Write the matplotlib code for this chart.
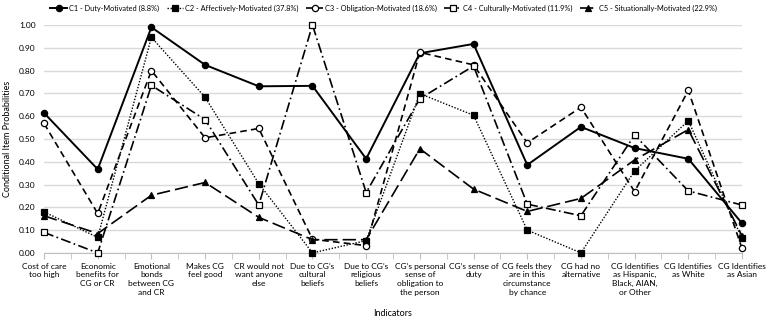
import numpy as np
import matplotlib.pyplot as plt

plt.rcParams['font.family'] = ['Lato', 'DejaVu Sans']

categories = [
    "Cost of care\ntoo high",
    "Economic\nbenefits for\nCG or CR",
    "Emotional\nbonds\nbetween CG\nand CR",
    "Makes CG\nfeel good",
    "CR would not\nwant anyone\nelse",
    "Due to CG\u2019s\ncultural\nbeliefs",
    "Due to CG\u2019s\nreligious\nbeliefs",
    "CG\u2019s personal\nsense of\nobligation to\nthe person",
    "CG\u2019s sense of\nduty",
    "CG feels they\nare in this\ncircumstance\nby chance",
    "CG had no\nalternative",
    "CG Identifies\nas Hispanic,\nBlack, AIAN,\nor Other",
    "CG Identifies\nas White",
    "CG Identifies\nas Asian",
]

c1 = [0.614, 0.367, 0.990, 0.825, 0.731, 0.733, 0.413, 0.876, 0.917, 0.386, 0.553, 0.460, 0.413, 0.130]
c2 = [0.180, 0.068, 0.946, 0.683, 0.304, 0.000, 0.054, 0.699, 0.604, 0.100, 0.000, 0.360, 0.580, 0.064]
c3 = [0.568, 0.173, 0.800, 0.505, 0.546, 0.060, 0.032, 0.880, 0.825, 0.483, 0.639, 0.269, 0.713, 0.020]
c4 = [0.090, 0.000, 0.735, 0.585, 0.210, 1.000, 0.265, 0.677, 0.820, 0.214, 0.163, 0.517, 0.272, 0.210]
c5 = [0.163, 0.085, 0.253, 0.309, 0.156, 0.058, 0.058, 0.457, 0.280, 0.182, 0.239, 0.408, 0.541, 0.075]

series_names = [
    "C1 - Duty-Motivated (8.8%)",
    "C2 - Affectively-Motivated (37.8%)",
    "C3 - Obligation-Motivated (18.6%)",
    "C4 - Culturally-Motivated (11.9%)",
    "C5 - Situationally-Motivated (22.9%)",
]

fig = plt.figure(figsize=(7.67, 3.23), dpi=100)
ax = fig.add_axes([0.0574, 0.217, 0.9100, 0.7056])

x = np.arange(len(categories))
styles = [
    dict(ls='-', marker='o', mfc='black', lw=1.4),
    dict(ls=(0, (1, 1.2)), marker='s', mfc='black', lw=1.0),
    dict(ls=(0, (4, 2.5)), marker='o', mfc='white', lw=1.2),
    dict(ls=(0, (6, 2, 1, 2)), marker='s', mfc='white', lw=1.2),
    dict(ls=(0, (8, 3)), marker='^', mfc='black', lw=1.2),
]
for vals, name, st in zip([c1, c2, c3, c4, c5], series_names, styles):
    ax.plot(x, vals, color='black', linestyle=st['ls'], lw=st['lw'],
            marker=st['marker'], markerfacecolor=st['mfc'],
            markeredgecolor='black', markersize=4.5, markeredgewidth=0.9,
            label=name, clip_on=False, zorder=3)

ax.set_xlim(0, len(categories) - 1)
ax.set_ylim(0, 1.0)
ax.set_yticks(np.arange(0, 1.01, 0.1))
ax.set_yticklabels(["%.2f" % v for v in np.arange(0, 1.01, 0.1)], fontsize=6)
ax.yaxis.grid(True, color='#d9d9d9', lw=1.0)
ax.set_axisbelow(True)
ax.set_xticks(x)
ax.set_xticklabels(categories, fontsize=6, linespacing=1.3)
ax.set_xticks(np.arange(0.5, len(categories) - 1, 1), minor=True)
ax.tick_params(axis='x', which='both', length=4, color='#bfbfbf', pad=3)
ax.tick_params(axis='y', length=0, pad=6)
for s in ['top', 'right', 'left']:
    ax.spines[s].set_visible(False)
ax.spines['bottom'].set_color('#bfbfbf')

ax.set_ylabel("Conditional Item Probabilities", fontsize=6.5, labelpad=5)
ax.set_xlabel("Indicators", fontsize=6.5, labelpad=9)

fig.legend(loc='upper center', bbox_to_anchor=(0.5, 1.005), ncol=5,
           frameon=False, fontsize=5.3, handlelength=2.3, columnspacing=1.0,
           handletextpad=0.25)

fig.savefig("out.png", dpi=100)
